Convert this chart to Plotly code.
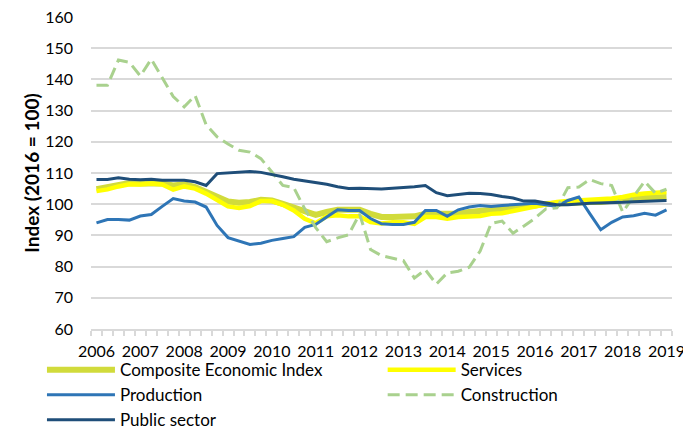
import plotly.graph_objects as go

years = ["2006", "2007", "2008", "2009", "2010", "2011", "2012", "2013",
         "2014", "2015", "2016", "2017", "2018", "2019"]
quarters = [f"{2006 + i // 4} Q{i % 4 + 1}" for i in range(53)]

composite = [104.8, 105.5, 106.4, 106.8, 106.6, 106.7, 106.6, 106.0, 106.4, 105.5, 103.9, 102.3, 100.9,
             100.5, 100.7, 101.4, 101.2, 100.1, 99.1, 97.7, 96.6, 97.5, 98.2, 98.2, 98.2, 96.9, 95.9,
             95.9, 95.9, 96.1, 96.9, 96.9, 96.6, 96.9, 97.5, 97.8, 98.3, 98.5, 98.9, 99.3,
             99.6, 100.1, 100.35, 100.35, 100.45, 100.7, 100.7, 101.2, 101.45, 101.8, 101.95, 102.3, 102.3]

services = [104.2, 104.75, 105.7, 106.4, 106.3, 106.6, 106.3, 104.65, 105.7, 105.0, 103.4, 101.2, 99.3,
            98.8, 99.4, 101.0, 101.0, 99.8, 98.0, 95.35, 93.9, 96.1, 96.45, 96.1, 96.1, 94.25, 93.8,
            94.25, 94.25, 93.7, 95.9, 95.9, 95.35, 95.9, 95.9, 96.2, 96.9, 97.1, 97.8, 98.5,
            99.3, 100.1, 100.7, 101.0, 101.2, 101.2, 101.5, 101.8, 102.3, 103.05, 103.4, 103.6, 103.9]

production = [94.0, 95.1, 95.1, 94.9, 96.2, 96.7, 99.3, 101.8, 101.0, 100.7, 99.1, 93.2, 89.3,
              88.1, 87.1, 87.5, 88.4, 89.0, 89.6, 92.6, 93.5, 95.9, 98.2, 98.0, 98.0, 95.4, 93.7,
              93.5, 93.5, 94.2, 98.0, 98.0, 96.1, 98.2, 99.1, 99.6, 99.3, 99.6, 99.8, 100.1,
              100.3, 99.8, 99.3, 101.2, 102.3, 97.0, 91.8, 94.2, 95.9, 96.3, 97.1, 96.5, 98.2]

construction = [138.1, 138.1, 146.2, 145.5, 141.1, 146.5, 140.5, 134.5, 131.2, 134.8, 125.5, 121.6, 119.3,
                117.3, 116.7, 114.6, 110.3, 106.0, 105.3, 98.5, 92.5, 88.0, 89.2, 90.2, 96.9, 85.5, 83.5,
                82.8, 81.9, 76.3, 79.0, 74.4, 78.0, 78.5, 79.8, 85.0, 93.8, 94.6, 90.7, 93.0,
                95.5, 98.5, 98.8, 105.3, 105.5, 107.9, 106.6, 106.0, 97.5, 102.5, 107.3, 103.5, 104.8]

public_sector = [107.9, 107.9, 108.5, 108.0, 107.8, 108.0, 107.7, 107.7, 107.7, 107.2, 106.0, 109.8, 110.1,
                 110.2, 110.5, 110.2, 109.6, 108.8, 108.0, 107.5, 107.0, 106.4, 105.6, 105.0, 105.1, 104.9, 104.9,
                 105.1, 105.3, 105.6, 106.0, 103.7, 102.7, 103.2, 103.5, 103.4, 103.1, 102.5, 102.0, 101.0,
                 101.0, 100.4, 99.8, 99.8, 100.1, 100.3, 100.4, 100.4, 100.6, 100.8, 101.0, 101.0, 101.2]

FONT = "Lato"
x = list(range(len(quarters)))

fig = go.Figure()
series = [
    ("Composite Economic Index", composite, "#D1DB3B", 6, "solid", "legend"),
    ("Services", services, "#FFFF00", 4.5, "solid", "legend2"),
    ("Production", production, "#2E75B6", 3, "solid", "legend"),
    ("Construction", construction, "#A9D18E", 3, "12px,6px", "legend2"),
    ("Public sector", public_sector, "#1F4E79", 3, "solid", "legend"),
]
for name, vals, color, width, dash, leg in series:
    fig.add_trace(go.Scatter(
        x=x, y=vals, name=name, mode="lines", legend=leg,
        line=dict(color=color, width=width, dash=dash),
        text=quarters, hovertemplate="%{text}: %{y}<extra>" + name + "</extra>",
    ))

legend_common = dict(
    orientation="v", xanchor="left", y=-0.074, yanchor="top",
    itemwidth=68, font=dict(family=FONT, size=17, color="#000000"),
    bgcolor="rgba(0,0,0,0)", traceorder="normal",
)

fig.update_layout(
    width=683, height=429,
    margin=dict(l=91, r=11, t=17, b=100, autoexpand=False),
    paper_bgcolor="white", plot_bgcolor="white",
    font=dict(family=FONT, size=16, color="#000000"),
    showlegend=True,
    legend=dict(x=-0.0844, **legend_common),
    legend2=dict(x=0.502, **legend_common),
    xaxis=dict(
        range=[-0.5, 52.5], tickmode="array",
        tickvals=[i * 4 for i in range(len(years))], ticktext=years,
        ticks="", showgrid=False, zeroline=False, automargin=False,
        showline=True, linecolor="#D9D9D9", linewidth=1.5,
        ticklabelstandoff=7, ticklabeloverflow="allow",
        minor=dict(ticks="outside", tick0=-0.5, dtick=1, ticklen=5,
                   tickcolor="#D9D9D9", tickwidth=1.5, showgrid=False),
        tickfont=dict(family=FONT, size=16),
    ),
    yaxis=dict(
        range=[60, 160], dtick=10, tick0=60,
        showgrid=True, gridcolor="#D9D9D9", gridwidth=1.5,
        zeroline=False, showline=False, ticks="", automargin=False,
        ticklabelstandoff=17, ticklabeloverflow="allow",
        tickfont=dict(family=FONT, size=16),
        title=dict(text="<b>Index (2016 = 100)</b>", font=dict(family=FONT, size=19), standoff=0),
    ),
)

fig.write_html(
    "out.html",
    config={"displayModeBar": False},
    post_script="document.body.style.margin='0';document.body.style.overflow='hidden';",
)
